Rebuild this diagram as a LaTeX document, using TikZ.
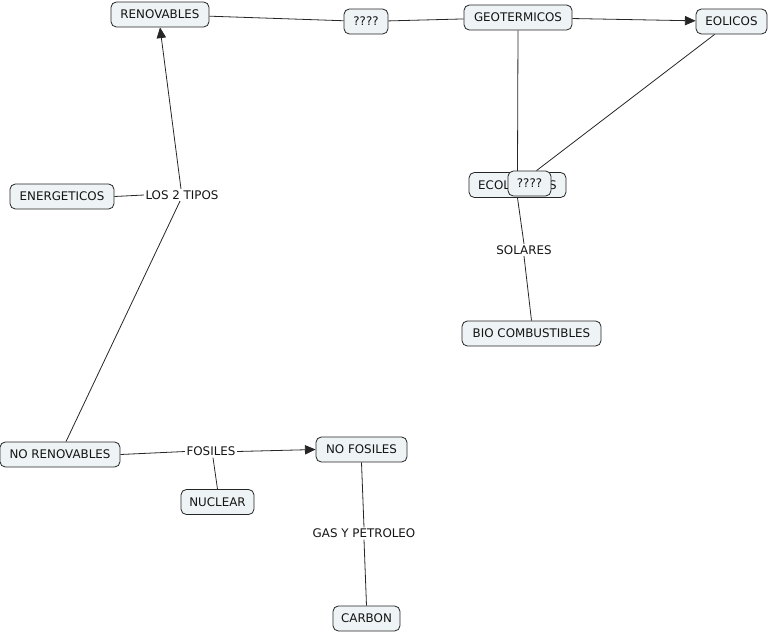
\documentclass[tikz,border=0pt]{standalone}
\usepackage{fontspec}
\setmainfont{DejaVu Sans}
\usetikzlibrary{arrows.meta,calc,backgrounds}
\definecolor{boxfill}{RGB}{238,243,245}
\definecolor{txt}{RGB}{20,20,20}
\begin{document}
\begin{tikzpicture}[x=0.75pt,y=-0.75pt,
  every node/.style={font=\fontsize{8.9pt}{10.5pt}\selectfont, text=txt},
  concept/.style={draw=black!85, fill=boxfill, rounded corners=4pt, line width=0.6pt,
     minimum height=18.75pt, inner sep=0pt},
  linkw/.style={inner sep=1pt},
  conn/.style={draw=black!85, line width=0.6pt},
  arr/.style={conn, -{Triangle[length=8pt,width=7pt]}}]
\useasboundingbox (0,0) rectangle (769,633);
% concepts
\node[concept, minimum width=73.5pt] (ren) at (160,14.5) {RENOVABLES};
\node[concept, minimum width=33pt] (q1) at (366,21.5) {????};
\node[concept, minimum width=81pt] (geo) at (518,17.5) {GEOTERMICOS};
\node[concept, minimum width=53.25pt] (eol) at (731.5,21.5) {EOLICOS};
\node[concept, minimum width=72.75pt] (ecol) at (517.5,185) {ECOLOGICOS};
\node[concept, minimum width=32.25pt] (q2) at (529.5,183.5) {????};
\node[concept, minimum width=78pt] (ene) at (62,196.5) {ENERGETICOS};
\node[concept, minimum width=104.25pt] (bio) at (531.5,333.5) {BIO COMBUSTIBLES};
\node[concept, minimum width=90pt] (nor) at (60,454.5) {NO RENOVABLES};
\node[concept, minimum width=68.25pt] (nof) at (361.5,449.5) {NO FOSILES};
\node[concept, minimum width=54.75pt] (nuc) at (217.5,502) {NUCLEAR};
\node[concept, minimum width=50.25pt] (car) at (366.5,618.5) {CARBON};
% linking phrases
\node[linkw] (los) at (182,195) {LOS 2 TIPOS};
\node[linkw] (sol) at (524,250) {SOLARES};
\node[linkw] (fos) at (211,451.5) {FOSILES};
\node[linkw] (gas) at (364,533.5) {GAS Y PETROLEO};
% connectors
\begin{scope}[on background layer]
\draw[conn] (ren) -- (q1);
\draw[conn] (q1) -- (geo);
\draw[arr] (geo) -- (eol);
\draw[conn] (geo.south) -- (ecol.north);
\draw[conn] (eol) -- ($(q2.north)+(7,0)$);
\draw[conn] (ecol.south) -- (sol.north);
\draw[conn] (sol.south) -- (bio.north);
\draw[arr] ($(los.north)+(-1,0)$) -- (ren.south);
\draw[conn] (ene.east) -- (los.west);
\draw[conn] ($(los.south)+(-2,0)$) -- ($(nor.north)+(6,0)$);
\draw[conn] (nor.east) -- (fos.west);
\draw[arr] (fos.east) -- (nof.west);
\draw[conn] ($(fos.south)+(2,0)$) -- (nuc.north);
\draw[conn] (nof.south) -- (gas.north);
\draw[conn] (gas.south) -- (car.north);
\end{scope}
\end{tikzpicture}
\end{document}
